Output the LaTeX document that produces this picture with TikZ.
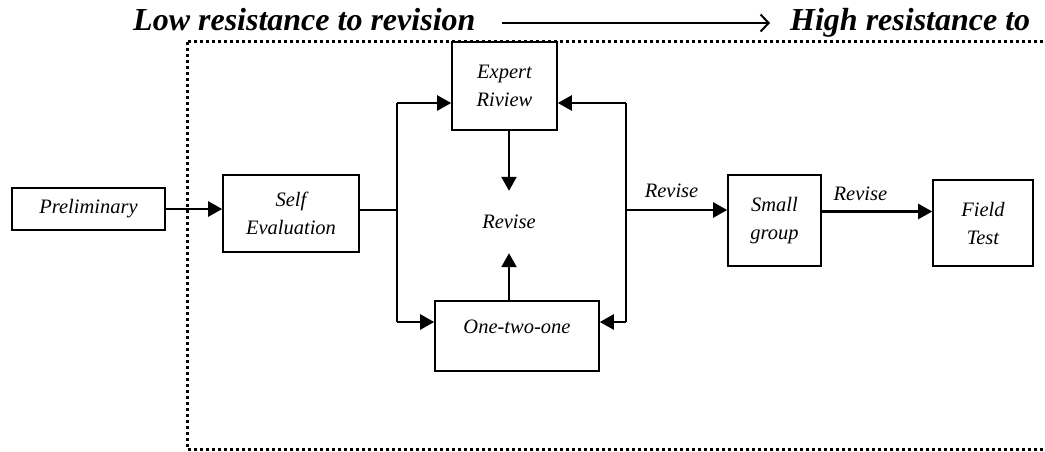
\documentclass[tikz,border=0pt]{standalone}
\usepackage{fontspec}
\setmainfont{Liberation Serif}
\usetikzlibrary{
  positioning,
  arrows.meta
}

\begin{document}
\begin{tikzpicture}[
  x=1pt, y=-1pt,
  every node/.style={font=\fontsize{20.5}{28}\selectfont\itshape},
  box/.style={draw, rectangle, line width=1.6pt, align=center, inner sep=0pt},
  title/.style={font=\fontsize{32}{36}\selectfont\bfseries\itshape, inner sep=0pt},
  arrow/.style={line width=2.4pt, -{Triangle[length=14pt,width=15pt]}},
  bus/.style={line width=2.2pt},
  frame/.style={line width=3pt, dash pattern=on 3pt off 3pt}
]
\useasboundingbox (0,0) rectangle (1045,452);
\clip (0,0) rectangle (1045,452);

% Title
\node[title, anchor=base west] (low) at (133,31) {Low resistance to revision};
\node[title, anchor=base west] (high) at (790,31) {High resistance to};
\coordinate (tail) at (502,23);
\coordinate (tip) at (770,23);
\draw[line width=2pt, -{Straight Barb[length=8pt,width=17pt]}] (tail) -- (tip);

% Frame
\draw[frame] (187,42) rectangle (1060,449);

% Boxes
\node[box, minimum width=153pt, minimum height=42pt] (prelim) at (88.5,209) {Preliminary};
\node[box, minimum width=136pt, minimum height=77pt] (self) at (291,213.5) {Self\\Evaluation};
\node[box, minimum width=105pt, minimum height=88pt] (expert) at (504.5,86) {Expert\\Riview};
\node[minimum height=62pt] (revise) at (509,222) {Revise};
\node[box, minimum width=164pt, minimum height=70pt, text height=14pt, text depth=20pt] (one) at (517,336) {One-two-one};
\node[box, minimum width=93pt, minimum height=91pt] (small) at (774.5,220.5) {Small\\group};
\node[box, minimum width=100pt, minimum height=86pt] (field) at (983,223) {Field\\Test};

% Buses
\coordinate (lsplit) at (397,210);
\coordinate (ltop) at (397,103);
\coordinate (lbot) at (397,322);
\coordinate (rsplit) at (626,210);
\coordinate (rtop) at (626,103);
\coordinate (rbot) at (626,322);

% Arrows
\draw[arrow] (prelim.east) -- (prelim.east -| self.west);
\draw[line width=1.4pt] (self.east |- lsplit) -- (lsplit);
\draw[bus] (ltop) -- (lbot);
\draw[arrow] (ltop) -- (ltop -| expert.west);
\draw[arrow] (lbot) -- (lbot -| one.west);
\draw[bus] (rtop) -- (rbot);
\draw[arrow] (rtop) -- (rtop -| expert.east);
\draw[arrow] (rbot) -- (rbot -| one.east);
\draw[arrow] (expert.south -| revise) -- (revise.north);
\draw[arrow] (one.north -| revise) -- (revise.south);
\draw[arrow] (rsplit) -- node[above=8pt, pos=0.45] (rev1) {Revise} (rsplit -| small.west);
\draw[arrow] ([yshift=9pt]small.east) -- node[above=6pt, pos=0.35] (rev2) {Revise} ([yshift=9pt]small.east -| field.west);

\end{tikzpicture}
\end{document}
